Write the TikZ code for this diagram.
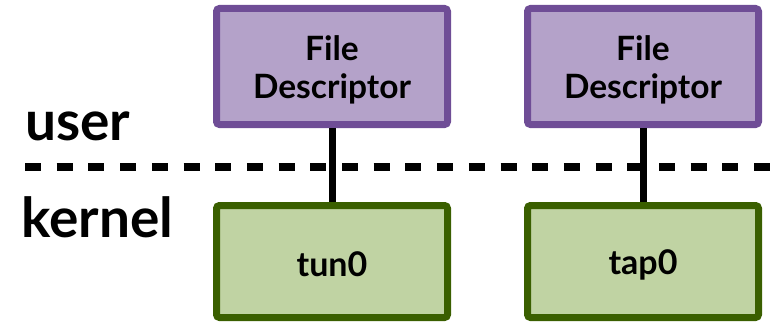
\documentclass[tikz,border=0pt]{standalone}
\usepackage{fontspec}
\setmainfont{Lato}
\begin{document}
\begin{tikzpicture}[x=1pt,y=-1pt,
  fdbox/.style={draw=fdborder, fill=fdfill, line width=7pt, rounded corners=3pt,
    minimum width=231pt, minimum height=116pt, inner sep=0pt},
  devbox/.style={draw=devborder, fill=devfill, line width=7pt, rounded corners=3pt,
    minimum width=231pt, minimum height=112pt, inner sep=0pt},
  fdtext/.style={align=center, font=\bfseries\fontsize{33.5}{37.5}\selectfont},
  devtext/.style={font=\bfseries\fontsize{34}{36}\selectfont},
  link/.style={line width=7pt},
  layer/.style={font=\bfseries\fontsize{55}{60}\selectfont, inner sep=0pt, anchor=base west}]
\definecolor{fdborder}{HTML}{6F4D96}
\definecolor{fdfill}{HTML}{B4A2C9}
\definecolor{devborder}{HTML}{3A5F00}
\definecolor{devfill}{HTML}{C0D3A3}
\useasboundingbox (0,0) rectangle (773,321);
% boundary between user space and kernel space
\coordinate (sepL) at (25,167);
\coordinate (sepR) at (773,167);
\draw[line width=8.5pt, dash pattern=on 16pt off 15.7pt] (sepL) -- (sepR);
% layer labels
\node[layer] (user) at (25,140) {user};
\node[layer] (kernel) at (21,237) {kernel};
% file descriptors in user space
\node[fdbox] (fd1) at (332,66.5) {};
\node[fdbox] (fd2) at (643,66.5) {};
\node[fdtext] (fd1t) at ([yshift=-3.5pt]fd1.center) {File\\Descriptor};
\node[fdtext] (fd2t) at ([yshift=-3.5pt]fd2.center) {File\\Descriptor};
% virtual network devices in the kernel
\node[devbox] (tun) at (332,261.5) {};
\node[devbox] (tap) at (643,261.5) {};
\node[devtext] (tunt) at ([yshift=-3pt]tun.center) {tun0};
\node[devtext] (tapt) at ([yshift=-3pt]tap.center) {tap0};
% connections
\draw[link] (fd1.south) -- (tun.north);
\draw[link] (fd2.south) -- (tap.north);
\end{tikzpicture}
\end{document}
